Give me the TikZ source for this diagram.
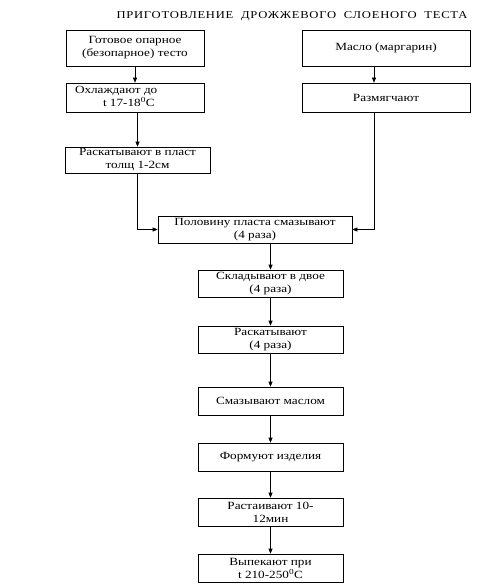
\documentclass[tikz,border=0pt]{standalone}
\usepackage{fontspec}
\setmainfont{Liberation Serif}[FakeStretch=1.2]
\usepackage{tikz}
\usetikzlibrary{arrows.meta, positioning, calc}

\begin{document}
\begin{tikzpicture}[x=1pt, y=-1pt,
  stage/.style={draw, line width=0.6pt, rectangle, align=center, inner sep=1pt,
    font=\fontsize{11}{13}\selectfont},
  arr/.style={line width=0.6pt, -{Triangle[length=5pt, width=4pt]}}]
\useasboundingbox (0,0) rectangle (492,588);

% Title
\node[font=\fontsize{10.5}{12}\selectfont\addfontfeatures{LetterSpace=7}] (title) at (292,16)
  {ПРИГОТОВЛЕНИЕ\ \ ДРОЖЖЕВОГО\ \ СЛОЕНОГО\ \ ТЕСТА};

% Dough branch
\node[stage, minimum width=138pt, minimum height=36pt] (dough) at (135,48)
  {Готовое опарное\\(безопарное) тесто};
\node[stage, minimum width=138pt, minimum height=29pt] (cool) at (135,97.5)
  {\makebox[120pt][l]{\begin{tabular}{@{}l@{}}Охлаждают до\\
   \hspace{28pt}t 17-18\textsuperscript{0}C\end{tabular}}};
\node[stage, minimum width=145pt, minimum height=26pt] (roll) at (137.5,160)
  {Раскатывают в пласт\\толщ 1-2см};

% Fat branch
\node[stage, minimum width=168pt, minimum height=36pt] (fat) at (386,48)
  {Масло (маргарин)};
\node[stage, minimum width=168pt, minimum height=29pt] (soft) at (386,97.5)
  {Размягчают};

% Main line
\node[stage, minimum width=194pt, minimum height=27pt] (spread) at (255,229.5)
  {Половину пласта смазывают\\(4 раза)};
\node[stage, minimum width=145pt, minimum height=27pt] (fold) at (270.5,283.5)
  {Складывают в двое\\(4 раза)};
\node[stage, minimum width=145pt, minimum height=27pt] (reroll) at (270.5,339.5)
  {Раскатывают\\(4 раза)};
\node[stage, minimum width=145pt, minimum height=28pt] (butter) at (270.5,401)
  {Смазывают маслом};
\node[stage, minimum width=145pt, minimum height=28pt] (shape) at (270.5,457)
  {Формуют изделия};
\node[stage, minimum width=145pt, minimum height=28pt] (proof) at (270.5,512)
  {Растаивают 10-\\12мин};
\node[stage, minimum width=145pt, minimum height=28pt] (bake) at (270.5,568)
  {Выпекают при\\t 210-250\textsuperscript{0}C};

% Connectors
\draw[arr] (dough) -- (cool);
\draw[arr] (cool.south -| roll.north) -- (roll.north);
\draw[arr] (roll.south) |- (spread.west);
\coordinate (fatx) at ($(fat.south)+(-12,0)$);
\draw[arr] (fatx) -- (fatx |- soft.north);
\draw[arr] (fatx |- soft.south) |- (spread.east);
\draw[arr] (spread.south -| fold.north) -- (fold.north);
\draw[arr] (fold) -- (reroll);
\draw[arr] (reroll) -- (butter);
\draw[arr] (butter) -- (shape);
\draw[arr] (shape) -- (proof);
\draw[arr] (proof) -- (bake);
\end{tikzpicture}
\end{document}
